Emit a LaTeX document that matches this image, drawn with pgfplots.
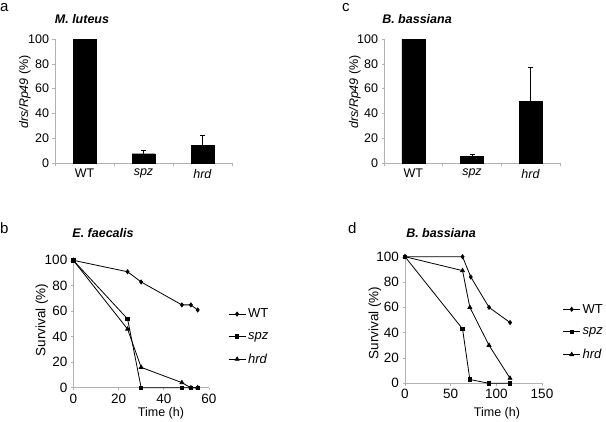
\documentclass[border=0pt]{standalone}
\usepackage{fontspec}
\setmainfont{Liberation Sans}
\usepackage{pgfplots}
\pgfplotsset{compat=1.18}

\newcommand{\fs}[1]{\fontsize{#1}{#1}\selectfont}

\pgfplotsset{
  panel/.style={scale only axis, axis x line=bottom, axis y line=left,
    axis line style={-, draw=black!30, line width=0.6pt},
    tick style={draw=black!30, line width=0.6pt}, tick align=outside,
    major tick length=2.5pt, minor tick length=3pt,
    ymin=0, ymax=100, ytick={0,20,...,100}, clip=false,
    /pgf/number format/assume math mode=true},
  barpanel/.style={panel, width=177pt, height=124pt,
    xmin=-0.5, xmax=2.5, xtick={0,1,2},
    xticklabels={WT,\textit{spz},\textit{hrd}},
    minor xtick={-0.5,0.5,1.5,2.5}, major x tick style={draw=none},
    tick label style={font=\fs{12.5}}},
  survpanel/.style={panel, tick label style={font=\fs{13.5}},
    legend style={draw=none, fill=none, font=\fs{13}, anchor=west,
      inner sep=0pt, row sep=9pt},
    legend cell align=left},
  bars/.style={ybar, bar width=23pt, fill=black, draw=black,
    error bars/.cd, y dir=plus, y explicit,
    error bar style={line width=0.8pt, black},
    error mark options={rotate=90, mark size=2.5pt, line width=0.8pt, black}},
  wt/.style={black, line width=0.8pt, mark=diamond*, mark size=2pt},
  spz/.style={black, line width=0.8pt, mark=square*, mark size=1.7pt},
  hrd/.style={black, line width=0.8pt, mark=triangle*, mark size=2.2pt},
}

\begin{document}
\begin{tikzpicture}
\useasboundingbox (0pt,0pt) rectangle (606pt,-421pt);

% panel letters and titles
\node[anchor=base west, inner sep=0, font=\fs{15}] at (0pt,-11.5pt) {a};
\node[anchor=base west, inner sep=0, font=\fs{15}] at (342pt,-11.5pt) {c};
\node[anchor=base west, inner sep=0, font=\fs{15}] at (0pt,-233pt) {b};
\node[anchor=base west, inner sep=0, font=\fs{15}] at (348pt,-233pt) {d};
\node[anchor=base, inner sep=0, font=\fs{12.5}\bfseries\itshape] at (82pt,-23pt) {M. luteus};
\node[anchor=base, inner sep=0, font=\fs{12.5}\bfseries\itshape] at (417pt,-23pt) {B. bassiana};
\node[anchor=base, inner sep=0, font=\fs{12.5}\bfseries\itshape] at (103pt,-237pt) {E. faecalis};
\node[anchor=base, inner sep=0, font=\fs{12.5}\bfseries\itshape] at (441pt,-237pt) {B. bassiana};

% axis labels
\node[rotate=90, inner sep=0, font=\fs{12.5}] at (25pt,-92pt) {\textit{drs/Rp49} (\%)};
\node[rotate=90, inner sep=0, font=\fs{12.5}] at (355pt,-92pt) {\textit{drs/Rp49} (\%)};
\node[rotate=90, inner sep=0, font=\fs{13.5}] at (42pt,-320pt) {Survival (\%)};
\node[rotate=90, inner sep=0, font=\fs{13.5}] at (375pt,-323pt) {Survival (\%)};
\node[inner sep=0, font=\fs{12.5}] at (161pt,-413pt) {Time (h)};
\node[inner sep=0, font=\fs{12.5}] at (497pt,-413pt) {Time (h)};

% a: M. luteus
\begin{axis}[barpanel, at={(55pt,-163pt)}, anchor=south west]
\addplot[bars] coordinates {(0,100) +- (0,0) (1,7.5) +- (0,2.7) (2,14.3) +- (0,8.3)};
\end{axis}

% c: B. bassiana
\begin{axis}[barpanel, at={(384pt,-163pt)}, anchor=south west, width=176pt]
\addplot[bars] coordinates {(0,100) +- (0,0) (1,5.6) +- (0,1.6) (2,50) +- (0,27.5)};
\end{axis}

% b: E. faecalis survival
\begin{axis}[survpanel, at={(73.3pt,-387.7pt)}, anchor=south west,
    width=135.7pt, height=127.4pt, xmin=0, xmax=60, xtick={0,20,40,60},
    legend style={at={(axis description cs:1.14,0.40)}}]
\addplot[wt] coordinates {(0,100) (24,91) (30,83) (48,65) (52,65) (55,61)};
\addplot[spz] coordinates {(0,100) (24,54) (30,0) (48,0) (52,0) (55,0)};
\addplot[hrd] coordinates {(0,100) (24,46) (30,16) (48,4) (52,0) (55,0)};
\legend{WT,\textit{spz},\textit{hrd}}
\end{axis}

% d: B. bassiana survival
\begin{axis}[survpanel, at={(405pt,-383.3pt)}, anchor=south west,
    width=137pt, height=126.6pt, xmin=0, xmax=150, xtick={0,50,100,150},
    legend style={at={(axis description cs:1.15,0.405)}}]
\addplot[wt] coordinates {(0,100) (63,100) (72,84) (92,60) (115,48)};
\addplot[spz] coordinates {(0,100) (63,43) (71,3) (92,0) (115,0)};
\addplot[hrd] coordinates {(0,100) (63,89) (71,60) (92,30) (115,4)};
\legend{WT,\textit{spz},\textit{hrd}}
\end{axis}
\end{tikzpicture}
\end{document}
